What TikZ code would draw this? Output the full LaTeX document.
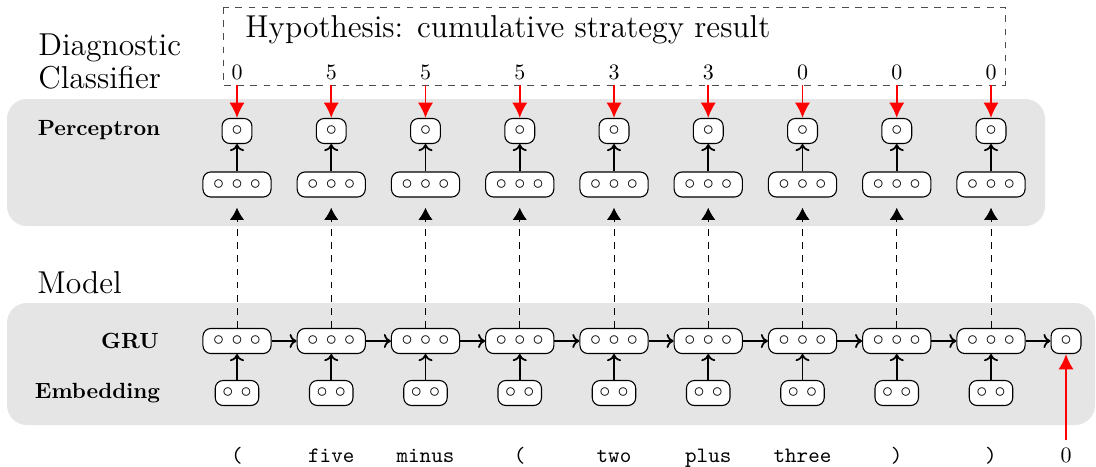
\documentclass[tikz,border=0pt]{standalone}
\usetikzlibrary{arrows.meta}
\begin{document}
\begin{tikzpicture}[x=0.455pt,y=-0.455pt,
  unit/.style={draw, rounded corners=3.6pt, fill=white, inner sep=0pt, minimum height=11.4pt, line width=0.5pt},
  one/.style={unit, minimum width=13.6pt},
  three/.style={unit, minimum width=31pt},
  two/.style={unit, minimum width=19.8pt},
  conn/.style={-{To[length=3.2pt,width=6.4pt]}, line width=0.8pt},
  probe/.style={-{Latex[length=5.5pt,width=6.4pt]}, dashed, line width=0.4pt, shorten >=4.6pt},
  target/.style={-{Latex[length=7pt,width=7pt]}, red, line width=0.9pt},
  lbl/.style={font=\bfseries, inner sep=0pt, anchor=base},
  big/.style={font=\Large, inner sep=0pt, anchor=base west},
  tok/.style={font=\ttfamily, anchor=base, inner sep=0pt},
  num/.style={anchor=base, inner sep=0pt}
]
\useasboundingbox (0,0) rectangle (1096,466);
\fill[black!10, rounded corners=9pt] (7,99) rectangle (1045,226);
\fill[black!10, rounded corners=9pt] (7,303) rectangle (1095,425);
\draw[dashed, black!70, line width=0.4pt] (223,7) rectangle (1005,85);

\node[big] (hyp) at (245,37) {Hypothesis: cumulative strategy result};
\node[big] (dc1) at (38,55) {Diagnostic};
\node[big] (dc2) at (38,88) {Classifier};
\node[big] (mod) at (37,293) {Model};
\node[lbl] (lp) at (99,135.5) {Perceptron};
\node[lbl] (lg) at (130,348) {GRU};
\node[lbl] (le) at (97.5,398) {Embedding};

\foreach \i/\n in {1/0,2/5,3/5,4/5,5/3,6/3,7/0,8/0,9/0} {
  \pgfmathsetmacro\xx{237+94.25*(\i-1)}
  \node[num] (n\i) at (\xx,79) {\n};
  \coordinate (c\i) at (\xx,85);
  \node[one] (p\i) at (\xx,131) {$\circ$};
  \node[three] (h\i) at (\xx,184.5) {$\circ$ $\circ$ $\circ$};
  \node[three] (g\i) at (\xx,341) {$\circ$ $\circ$ $\circ$};
  \node[two] (e\i) at (\xx,393) {$\circ$ $\circ$};
  \draw[conn] (h\i) -- (p\i);
  \draw[conn] (e\i) -- (g\i);
  \draw[probe] (g\i) -- (h\i);
  \draw[target] (c\i) -- (p\i);
}
\node[one] (out) at (1066,341) {$\circ$};
\foreach \i/\j in {1/2,2/3,3/4,4/5,5/6,6/7,7/8,8/9} {
  \draw[conn] (g\i) -- (g\j);
}
\draw[conn] (g9) -- (out);

\node[tok] (t1) at (237,462) {(};
\node[tok] (t2) at (331.25,462) {five};
\node[tok] (t3) at (425.5,462) {minus};
\node[tok] (t4) at (519.75,462) {(};
\node[tok] (t5) at (614,462) {two};
\node[tok] (t6) at (708.25,462) {plus};
\node[tok] (t7) at (802.5,462) {three};
\node[tok] (t8) at (896.75,462) {)};
\node[tok] (t9) at (991,462) {)};
\node[num] (t0) at (1066,462) {0};
\draw[target, shorten <=3pt] (t0.north) -- (out);
\end{tikzpicture}
\end{document}
